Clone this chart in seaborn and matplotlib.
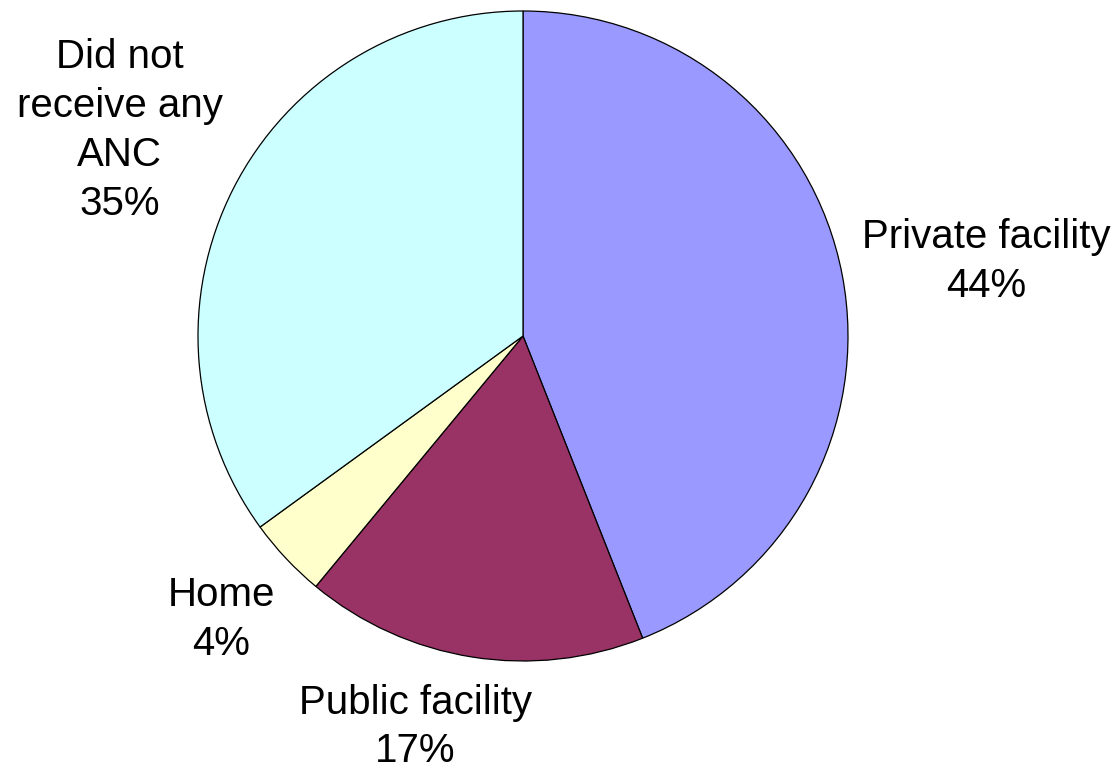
import matplotlib
matplotlib.use("Agg")
import matplotlib.pyplot as plt
import seaborn as sns
import numpy as np

# datos del grafico
categorias = ["Private facility", "Public facility", "Home", "Did not\nreceive any\nANC"]
porcentajes = [44, 17, 4, 35]
colores = ["#9999FF", "#993366", "#FFFFCC", "#CCFFFF"]

# ubicacion de las etiquetas: distancia radial y giro respecto al angulo medio
distancias_etiqueta = [1.443, 1.248, 1.273, 1.393]
giros_etiqueta = [-1.7, -6.4, 0.0, 0.0]

sns.set_theme(style="white")
plt.rcParams['font.family'] = ['Liberation Sans', 'DejaVu Sans']

ANCHO, ALTO = 1115, 769
CENTRO_X, CENTRO_Y, RADIO = 523, 336, 325

figura = plt.figure(figsize=(ANCHO / 100, ALTO / 100), dpi=100)
area_dibujo = figura.add_axes([0, 0, 1, 1])

cunas, _ = area_dibujo.pie(
    porcentajes,
    colors=colores,
    startangle=90,
    counterclock=False,
    radius=1,
    wedgeprops={"edgecolor": "black", "linewidth": 0.9},
)

# etiquetas colocadas segun el angulo medio de cada cuna
for cuna, nombre, pct, dist, giro in zip(cunas, categorias, porcentajes,
                                         distancias_etiqueta, giros_etiqueta):
    angulo = np.deg2rad((cuna.theta1 + cuna.theta2) / 2 + giro)
    area_dibujo.text(dist * np.cos(angulo), dist * np.sin(angulo),
                     f"{nombre}\n{pct}%", ha="center", va="center",
                     fontsize=29, color="black", linespacing=1.36)

area_dibujo.set_xlim(-CENTRO_X / RADIO, (ANCHO - CENTRO_X) / RADIO)
area_dibujo.set_ylim(-(ALTO - CENTRO_Y) / RADIO, CENTRO_Y / RADIO)
area_dibujo.set_aspect("equal")
area_dibujo.axis("off")

figura.savefig("out.png", dpi=100, facecolor="white")
plt.close(figura)
